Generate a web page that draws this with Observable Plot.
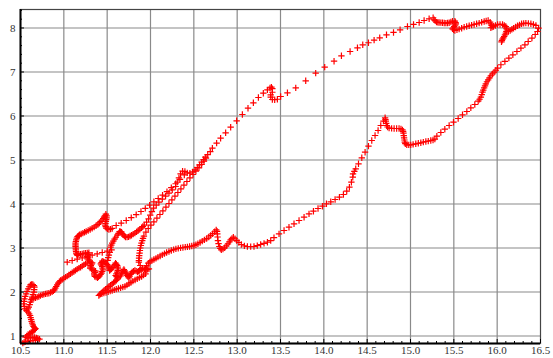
<!DOCTYPE html>
<html><head><meta charset="utf-8">
<script src="https://cdn.jsdelivr.net/npm/d3@7"></script>
<script src="https://cdn.jsdelivr.net/npm/@observablehq/plot@0.6"></script>
<style>body{margin:0;background:#fff} svg text{font-family:'Liberation Serif','Times New Roman',serif}</style>
</head><body><div id="chart"></div>
<script>
// Tick values
const xMajor = [10.5,11.0,11.5,12.0,12.5,13.0,13.5,14.0,14.5,15.0,15.5,16.0,16.5];
const yMajor = [1,2,3,4,5,6,7,8];

// Trajectory samples, [x, y], segment by segment
const bottomLoop = [[10.527,0.84],[10.542,0.86],[10.557,0.875],[10.585,0.883],[10.615,0.89],[10.645,0.894],[10.673,0.898],[10.697,0.91],[10.719,0.928],[10.70,0.945],[10.684,0.958],[10.663,0.967],[10.642,0.973],[10.618,0.965],[10.596,0.958],[10.575,0.962],[10.557,0.973],[10.572,1.004],[10.588,1.034],[10.606,1.057],[10.623,1.079],[10.639,1.102],[10.654,1.125],[10.665,1.148],[10.673,1.17],[10.66,1.193],[10.65,1.216],[10.642,1.254],[10.634,1.291],[10.628,1.333],[10.623,1.375],[10.617,1.42],[10.611,1.466],[10.6,1.503],[10.588,1.541],[10.569,1.579],[10.55,1.617],[10.543,1.674],[10.538,1.731],[10.541,1.788],[10.546,1.845],[10.555,1.9],[10.565,1.958],[10.576,2.015],[10.588,2.072],[10.6,2.12],[10.615,2.163],[10.628,2.172],[10.642,2.17],[10.655,2.145],[10.661,2.11],[10.658,2.053],[10.654,1.996],[10.644,1.94],[10.634,1.882],[10.625,1.825],[10.615,1.769],[10.606,1.712],[10.596,1.655],[10.585,1.615]];
const riseLine = [[10.634,1.845],[10.653,1.856],[10.673,1.867],[10.692,1.883],[10.711,1.898],[10.73,1.917],[10.75,1.935],[10.769,1.947],[10.788,1.958],[10.807,1.966],[10.827,1.973],[10.846,1.988],[10.865,2.004],[10.88,2.025],[10.892,2.049],[10.902,2.087],[10.912,2.125],[10.923,2.163],[10.935,2.201],[10.948,2.232],[10.962,2.261],[10.981,2.288],[11.0,2.314],[11.02,2.337],[11.039,2.36],[11.058,2.387],[11.077,2.413],[11.096,2.44],[11.116,2.466],[11.135,2.493],[11.154,2.519],[11.174,2.542],[11.193,2.564],[11.212,2.59],[11.231,2.617],[11.25,2.64],[11.27,2.663]];
const lowerDotted = [[11.039,2.678],[11.096,2.716],[11.154,2.747],[11.212,2.777],[11.27,2.807],[11.327,2.838],[11.385,2.868],[11.443,2.898],[11.501,2.928],[11.551,2.959]];
const flag = [[11.158,2.83],[11.15,2.857],[11.143,2.883],[11.141,2.921],[11.139,2.959],[11.137,2.997],[11.135,3.035],[11.135,3.072],[11.135,3.11],[11.139,3.148],[11.143,3.186],[11.15,3.224],[11.158,3.262],[11.17,3.281],[11.181,3.3],[11.2,3.319],[11.22,3.338],[11.239,3.357],[11.258,3.375],[11.281,3.398],[11.304,3.421],[11.327,3.448],[11.35,3.474],[11.372,3.505],[11.393,3.535],[11.41,3.569],[11.427,3.603],[11.441,3.637],[11.454,3.671],[11.464,3.701],[11.474,3.731],[11.485,3.769],[11.493,3.73],[11.493,3.686],[11.489,3.645],[11.485,3.603],[11.481,3.561],[11.478,3.519],[11.483,3.485],[11.489,3.451],[11.504,3.436],[11.52,3.421],[11.539,3.43],[11.558,3.444]];
const tangle = [[11.173,2.853],[11.193,2.86],[11.212,2.868],[11.231,2.875],[11.25,2.883],[11.27,2.887],[11.289,2.891],[11.283,2.857],[11.277,2.822],[11.275,2.788],[11.273,2.754],[11.285,2.728],[11.297,2.701],[11.312,2.682],[11.327,2.663],[11.32,2.633],[11.312,2.603],[11.308,2.573],[11.304,2.542],[11.32,2.523],[11.335,2.504],[11.35,2.489],[11.366,2.474],[11.358,2.443],[11.35,2.413],[11.354,2.383],[11.358,2.353],[11.373,2.337],[11.389,2.322],[11.4,2.345],[11.412,2.368],[11.424,2.398],[11.435,2.428],[11.443,2.466],[11.451,2.504],[11.447,2.542],[11.443,2.58],[11.435,2.61],[11.427,2.641],[11.435,2.671],[11.443,2.701],[11.458,2.69],[11.474,2.678],[11.488,2.652],[11.501,2.625],[11.51,2.595],[11.52,2.565],[11.524,2.527],[11.528,2.489],[11.54,2.508],[11.551,2.527],[11.565,2.561],[11.578,2.595],[11.588,2.625],[11.597,2.656],[11.606,2.63],[11.616,2.603],[11.622,2.565],[11.628,2.527],[11.622,2.489],[11.616,2.451],[11.606,2.413],[11.597,2.375],[11.608,2.348],[11.62,2.322],[11.637,2.345],[11.655,2.368],[11.664,2.41],[11.674,2.451],[11.683,2.482],[11.693,2.512],[11.702,2.482],[11.712,2.451],[11.722,2.413],[11.732,2.375],[11.741,2.348],[11.751,2.322],[11.76,2.36],[11.77,2.398],[11.78,2.428],[11.789,2.459],[11.805,2.474],[11.82,2.489],[11.835,2.474],[11.851,2.459],[11.862,2.474],[11.874,2.489],[11.893,2.504],[11.912,2.519],[11.931,2.512],[11.951,2.504],[11.967,2.515],[11.982,2.527]];
const spikeA = [[11.404,1.921],[11.424,1.959],[11.443,1.997],[11.462,2.031],[11.481,2.065],[11.5,2.095],[11.52,2.125],[11.539,2.156],[11.558,2.186],[11.574,2.212],[11.589,2.239],[11.605,2.265],[11.62,2.292]];
const spikeB = [[11.416,1.944],[11.439,1.959],[11.462,1.974],[11.487,1.989],[11.512,2.004],[11.535,2.019],[11.558,2.034],[11.582,2.05],[11.605,2.065],[11.63,2.08],[11.655,2.095],[11.68,2.11],[11.705,2.125],[11.728,2.156],[11.751,2.186],[11.774,2.217],[11.797,2.247],[11.822,2.274],[11.847,2.3],[11.872,2.327],[11.897,2.353],[11.92,2.383],[11.943,2.413]];
const connector = [[11.53,2.9],[11.52,2.84],[11.512,2.78],[11.506,2.72]];
const upperDotted = [[11.604,3.512],[11.662,3.567],[11.72,3.625],[11.778,3.69],[11.835,3.76],[11.89,3.83],[11.94,3.9],[11.99,3.975],[12.039,4.05],[12.089,4.125],[12.139,4.2],[12.19,4.28],[12.24,4.37],[12.29,4.46],[12.34,4.56],[12.39,4.66]];
const curveC1 = [[11.539,3.019],[11.548,3.065],[11.558,3.11],[11.571,3.155],[11.585,3.2],[11.6,3.245],[11.616,3.291],[11.63,3.333],[11.643,3.375],[11.655,3.372],[11.666,3.36],[11.675,3.33],[11.685,3.299],[11.698,3.27],[11.712,3.246],[11.73,3.248],[11.747,3.254],[11.764,3.272],[11.781,3.291],[11.8,3.314],[11.82,3.337],[11.839,3.367],[11.858,3.397],[11.877,3.427],[11.897,3.458],[11.912,3.488],[11.928,3.519],[11.955,3.587],[11.978,3.663],[11.997,3.746],[12.016,3.829],[12.036,3.905],[12.066,3.973],[12.097,4.041],[12.136,4.11],[12.174,4.178],[12.213,4.246],[12.251,4.322],[12.29,4.398],[12.309,4.496],[12.328,4.594],[12.347,4.685],[12.37,4.746],[12.397,4.738],[12.424,4.708],[12.455,4.7],[12.486,4.731],[12.513,4.776],[12.54,4.83],[12.567,4.89],[12.59,4.951],[12.613,5.011],[12.632,5.064]];
const curveC2 = [[11.905,2.542],[11.882,2.603],[11.866,2.678],[11.866,2.716],[11.868,2.77],[11.87,2.829],[11.874,2.886],[11.878,2.943],[11.883,3.0],[11.889,3.057],[11.896,3.113],[11.905,3.17],[11.914,3.22],[11.924,3.269],[11.947,3.36],[11.974,3.443],[12.005,3.519],[12.039,3.594],[12.074,3.678],[12.109,3.761],[12.143,3.845],[12.178,3.928],[12.213,4.011],[12.247,4.095],[12.282,4.178],[12.316,4.261],[12.351,4.345],[12.386,4.428],[12.42,4.511],[12.455,4.595],[12.49,4.67],[12.524,4.746],[12.559,4.822],[12.59,4.898],[12.617,4.973],[12.64,5.041],[12.66,5.12],[12.69,5.19]];
const longDotted = [[12.714,5.268],[12.763,5.382],[12.809,5.495],[12.867,5.618],[12.925,5.745],[12.994,5.891],[13.06,6.034],[13.125,6.177],[13.187,6.3],[13.245,6.42],[13.302,6.518],[13.349,6.595],[13.379,6.64],[13.395,6.655],[13.406,6.62],[13.406,6.54],[13.387,6.48],[13.387,6.43],[13.406,6.375],[13.433,6.37],[13.464,6.38],[13.502,6.443],[13.58,6.527],[13.676,6.64],[13.791,6.8],[13.906,6.973],[14.01,7.109],[14.118,7.245],[14.203,7.368],[14.303,7.466],[14.388,7.55],[14.449,7.618],[14.515,7.664],[14.58,7.723],[14.645,7.777],[14.723,7.845],[14.804,7.898],[14.88,7.959],[14.965,8.034],[15.035,8.08],[15.1,8.125],[15.157,8.17],[15.215,8.209],[15.261,8.232]];
const lowerCurve = [[11.943,2.527],[11.955,2.6],[11.975,2.655],[11.993,2.685],[12.016,2.712],[12.039,2.738],[12.063,2.765],[12.086,2.792],[12.111,2.818],[12.136,2.844],[12.161,2.871],[12.186,2.898],[12.213,2.92],[12.24,2.943],[12.267,2.962],[12.293,2.981],[12.32,2.992],[12.347,3.003],[12.374,3.011],[12.401,3.019],[12.426,3.027],[12.451,3.034],[12.476,3.045],[12.501,3.057],[12.524,3.075],[12.547,3.097],[12.572,3.125],[12.597,3.155],[12.622,3.185],[12.648,3.215],[12.672,3.25],[12.694,3.285],[12.717,3.325],[12.74,3.37],[12.758,3.41],[12.768,3.38],[12.771,3.323],[12.774,3.25],[12.778,3.17],[12.785,3.1],[12.794,3.034],[12.805,2.99],[12.817,2.959],[12.836,2.975],[12.856,3.005],[12.875,3.05],[12.894,3.095],[12.91,3.14],[12.925,3.186],[12.94,3.22],[12.956,3.245],[12.975,3.21],[12.994,3.17],[13.02,3.125],[13.048,3.08],[13.083,3.05],[13.118,3.034],[13.156,3.03],[13.194,3.034],[13.232,3.055],[13.271,3.08],[13.31,3.105],[13.349,3.132],[13.387,3.17],[13.425,3.235],[13.483,3.32],[13.541,3.398],[13.598,3.473],[13.656,3.55],[13.714,3.625],[13.772,3.7],[13.829,3.777],[13.88,3.836],[13.933,3.898],[13.984,3.95],[14.03,4.005],[14.08,4.05],[14.13,4.102],[14.18,4.155],[14.226,4.216],[14.264,4.291],[14.295,4.382],[14.318,4.495],[14.334,4.609]];
const rightClimb = [[14.337,4.686],[14.352,4.743],[14.368,4.8],[14.4,4.914],[14.438,5.05],[14.476,5.177],[14.515,5.314],[14.553,5.443],[14.591,5.557],[14.626,5.67],[14.657,5.784],[14.688,5.882],[14.707,5.959],[14.711,5.92],[14.715,5.882],[14.72,5.833],[14.726,5.784],[14.735,5.75],[14.753,5.723],[14.782,5.718],[14.811,5.716],[14.84,5.716],[14.868,5.716],[14.89,5.705],[14.907,5.686],[14.915,5.65],[14.919,5.609],[14.922,5.555],[14.926,5.505],[14.93,5.455],[14.934,5.405],[14.94,5.37],[14.957,5.345],[14.98,5.343],[15.003,5.345],[15.03,5.356],[15.061,5.368],[15.09,5.38],[15.119,5.391],[15.148,5.405],[15.177,5.42],[15.205,5.43],[15.234,5.443],[15.26,5.455],[15.281,5.473]];
const rightDiagonal = [[15.304,5.541],[15.35,5.625],[15.396,5.7],[15.446,5.784],[15.496,5.859],[15.55,5.943],[15.6,6.027],[15.65,6.102],[15.696,6.186],[15.742,6.261],[15.781,6.336],[15.797,6.38],[15.812,6.427],[15.822,6.484],[15.831,6.541],[15.84,6.59],[15.85,6.641],[15.86,6.686],[15.869,6.732],[15.882,6.778],[15.896,6.823],[15.911,6.868],[15.927,6.914],[15.946,6.955],[15.965,6.995],[15.985,7.04],[16.005,7.086],[16.043,7.164],[16.089,7.239],[16.135,7.314],[16.181,7.391],[16.228,7.466],[16.274,7.541],[16.32,7.618],[16.358,7.693],[16.401,7.768],[16.439,7.852]];
const topHook = [[16.466,7.92],[16.478,7.995],[16.447,8.057],[16.418,8.08],[16.389,8.095],[16.36,8.105],[16.331,8.11],[16.306,8.105],[16.282,8.095],[16.258,8.072],[16.235,8.05],[16.212,8.022],[16.189,7.995],[16.17,7.97],[16.15,7.943],[16.13,7.92]];
const topWiggle = [[15.273,8.186],[15.285,8.16],[15.3,8.132],[15.315,8.128],[15.33,8.125],[15.35,8.122],[15.369,8.118],[15.389,8.114],[15.408,8.11],[15.427,8.114],[15.446,8.118],[15.466,8.135],[15.485,8.155],[15.512,8.155],[15.52,8.125],[15.523,8.095],[15.515,8.065],[15.504,8.034],[15.495,8.005],[15.485,7.98],[15.497,7.96],[15.512,7.943],[15.536,7.958],[15.561,7.973],[15.59,7.995],[15.619,8.018],[15.648,8.034],[15.677,8.05],[15.705,8.065],[15.734,8.08],[15.763,8.095],[15.792,8.11],[15.821,8.129],[15.85,8.148],[15.873,8.159],[15.896,8.17],[15.919,8.132],[15.928,8.095],[15.935,8.057],[15.927,8.005],[15.942,8.02],[15.958,8.034],[15.98,8.057],[16.005,8.08],[16.033,8.08],[16.062,8.08],[16.082,8.057],[16.1,8.034],[16.108,7.995],[16.112,7.959],[16.106,7.92],[16.1,7.882],[16.09,7.845],[16.081,7.807],[16.072,7.775],[16.062,7.745],[16.055,7.715],[16.05,7.686]];

const segments = [bottomLoop, riseLine, lowerDotted, flag, tangle, spikeA, spikeB, connector, upperDotted, curveC1, curveC2, longDotted, lowerCurve, rightClimb, rightDiagonal, topHook, topWiggle];
const points = segments.flat().map(([x, y]) => ({x, y}));

const xDomain = [10.5, 16.5];
const yDomain = [0.83, 8.42];
const xMinor = d3.range(105, 166).map(d => d / 10).filter(d => !xMajor.some(m => Math.abs(m - d) < 1e-6));
const yMinor = d3.range(5, 43).map(d => d / 5).filter(d => d > yDomain[0] && d < yDomain[1] && !yMajor.some(m => Math.abs(m - d) < 1e-6));

const W = 553, H = 358, mL = 20, mR = 13, mT = 9, mB = 15;
const innerW = W - mL - mR, innerH = H - mT - mB;
const serif = "'Liberation Serif', 'Times New Roman', serif";

const chart = Plot.plot({
  width: W, height: H,
  marginLeft: mL, marginRight: mR, marginTop: mT, marginBottom: mB,
  x: {domain: xDomain, label: null},
  y: {domain: yDomain, label: null},
  style: {fontFamily: serif, fontSize: "11px", background: "#fff", color: "#333"},
  marks: [
    Plot.gridX(xMajor.slice(1, -1), {stroke: "#8a8a8a", strokeOpacity: 1, strokeWidth: 1.2}),
    Plot.gridY(yMajor, {stroke: "#8a8a8a", strokeOpacity: 1, strokeWidth: 1.2}),
    Plot.frame({stroke: "#444", strokeWidth: 1.2}),
    Plot.dot(points, {x: "x", y: "y", symbol: "plus", r: 2.2, stroke: "#ff0000", strokeWidth: 1.2}),
    Plot.ruleX(xMinor, {insetTop: innerH - 2, stroke: "#000", strokeWidth: 1}),
    Plot.ruleX(xMajor, {insetTop: innerH - 4, stroke: "#000", strokeWidth: 1}),
    Plot.ruleY(yMinor, {insetRight: innerW - 2, stroke: "#000", strokeWidth: 1}),
    Plot.ruleY(yMajor, {insetRight: innerW - 4, stroke: "#000", strokeWidth: 1}),
    Plot.ruleX([xDomain[0]], {stroke: "#000", strokeWidth: 2}),
    Plot.ruleY([yDomain[0]], {stroke: "#000", strokeWidth: 2}),
    Plot.axisX({ticks: xMajor, tickSize: 0, tickPadding: 3, tickFormat: d => d.toFixed(1), fill: "#333", fontSize: 11, fontFamily: serif, label: null}),
    Plot.axisY({ticks: yMajor, tickSize: 0, tickPadding: 5, tickFormat: d => String(d), fill: "#333", fontSize: 11, fontFamily: serif, label: null})
  ]
});
document.getElementById("chart").appendChild(chart);
</script>
</body></html>
